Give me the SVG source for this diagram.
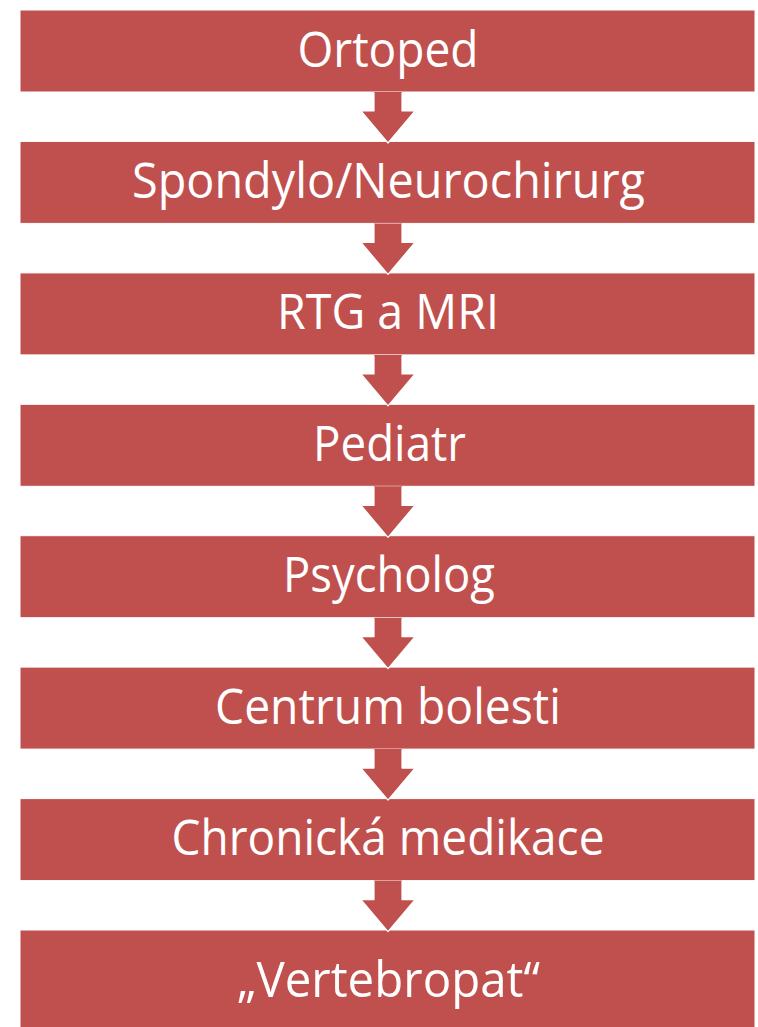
<svg xmlns="http://www.w3.org/2000/svg" width="758" height="1027" viewBox="0 0 758 1027">
<style>
.box{fill:#C0504D;stroke:#FFFFFF;stroke-width:1}
.lbl{fill:#FFFFFF;font-family:"Open Sans","Noto Sans",sans-serif;font-size:49px;text-anchor:middle}
.arr{fill:#C0504D;stroke:none}
.arrs{fill:none;stroke:#FFFFFF;stroke-width:1.2;stroke-linejoin:round}
</style>
<rect width="758" height="1027" fill="#FFFFFF"/>
<g id="n1"><rect class="box" x="20" y="10" width="735" height="82"/><text class="lbl" x="388" y="66.5" textLength="181" lengthAdjust="spacingAndGlyphs">Ortoped</text></g>
<g id="n2"><rect class="box" x="20" y="141.4" width="735" height="82"/><text class="lbl" x="388.5" y="197.5" textLength="513" lengthAdjust="spacingAndGlyphs">Spondylo/Neurochirurg</text></g>
<g id="n3"><rect class="box" x="20" y="272.9" width="735" height="82"/><text class="lbl" x="388" y="329.3" textLength="222" lengthAdjust="spacingAndGlyphs">RTG a MRI</text></g>
<g id="n4"><rect class="box" x="20" y="404.3" width="735" height="82"/><text class="lbl" x="389.5" y="460.5" textLength="153" lengthAdjust="spacingAndGlyphs">Pediatr</text></g>
<g id="n5"><rect class="box" x="20" y="535.7" width="735" height="82"/><text class="lbl" x="389" y="591.8" textLength="212" lengthAdjust="spacingAndGlyphs">Psycholog</text></g>
<g id="n6"><rect class="box" x="20" y="667.1" width="735" height="82"/><text class="lbl" x="388" y="724" textLength="346" lengthAdjust="spacingAndGlyphs">Centrum bolesti</text></g>
<g id="n7"><rect class="box" x="20" y="798.6" width="735" height="82"/><text class="lbl" x="388" y="855" textLength="433" lengthAdjust="spacingAndGlyphs">Chronická medikace</text></g>
<g id="n8"><rect class="box" x="20" y="930" width="735" height="100"/><text class="lbl" x="388.5" y="997" textLength="303" lengthAdjust="spacingAndGlyphs">„Vertebropat“</text></g>
<g id="connectors">
<g transform="translate(0,92)"><path class="arr" d="M374,0 L402,0 L402,19 L415,19 L388,51 L361,19 L374,19 Z"/><path class="arrs" d="M374,0.5 L374,19 L361,19 L388,51 L415,19 L402,19 L402,0.5"/></g>
<g transform="translate(0,223.4)"><path class="arr" d="M374,0 L402,0 L402,19 L415,19 L388,51 L361,19 L374,19 Z"/><path class="arrs" d="M374,0.5 L374,19 L361,19 L388,51 L415,19 L402,19 L402,0.5"/></g>
<g transform="translate(0,354.9)"><path class="arr" d="M374,0 L402,0 L402,19 L415,19 L388,51 L361,19 L374,19 Z"/><path class="arrs" d="M374,0.5 L374,19 L361,19 L388,51 L415,19 L402,19 L402,0.5"/></g>
<g transform="translate(0,486.3)"><path class="arr" d="M374,0 L402,0 L402,19 L415,19 L388,51 L361,19 L374,19 Z"/><path class="arrs" d="M374,0.5 L374,19 L361,19 L388,51 L415,19 L402,19 L402,0.5"/></g>
<g transform="translate(0,617.7)"><path class="arr" d="M374,0 L402,0 L402,19 L415,19 L388,51 L361,19 L374,19 Z"/><path class="arrs" d="M374,0.5 L374,19 L361,19 L388,51 L415,19 L402,19 L402,0.5"/></g>
<g transform="translate(0,749.1)"><path class="arr" d="M374,0 L402,0 L402,19 L415,19 L388,51 L361,19 L374,19 Z"/><path class="arrs" d="M374,0.5 L374,19 L361,19 L388,51 L415,19 L402,19 L402,0.5"/></g>
<g transform="translate(0,880.6)"><path class="arr" d="M374,0 L402,0 L402,19 L415,19 L388,51 L361,19 L374,19 Z"/><path class="arrs" d="M374,0.5 L374,19 L361,19 L388,51 L415,19 L402,19 L402,0.5"/></g>
</g>
</svg>
